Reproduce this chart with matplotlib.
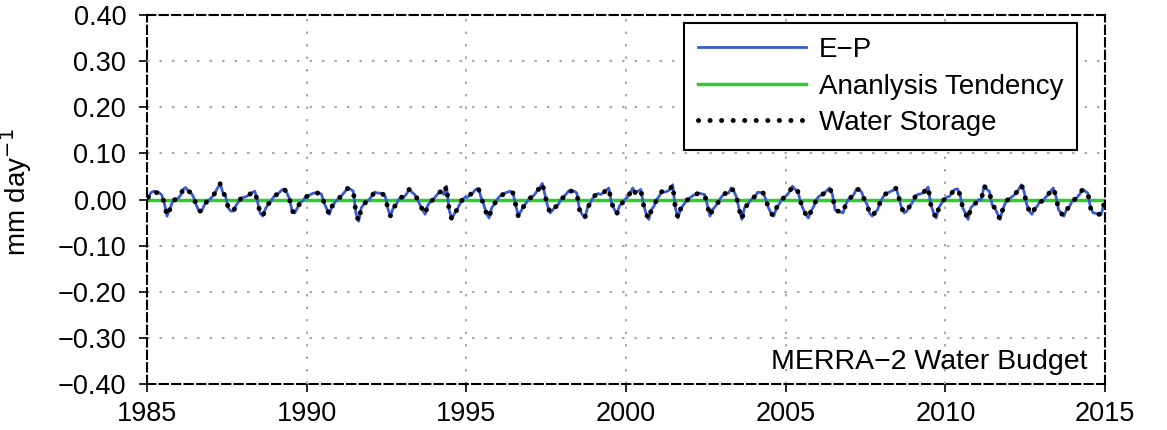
import numpy as np
import matplotlib
matplotlib.use("Agg")
import matplotlib.pyplot as plt

plt.rcParams['font.family'] = ['Liberation Sans', 'DejaVu Sans']

years = list(range(1985, 2015))

# E-P, monthly (Jan..Dec), mm/day, one row per year
ep = [
    [0.005, 0.015, 0.018, 0.015, 0.015, 0.010, -0.008, -0.036, -0.022, -0.006, 0.000, 0.002],   # 1985
    [0.008, 0.022, 0.026, 0.018, 0.015, 0.005, -0.012, -0.025, -0.025, -0.012, -0.004, 0.000],  # 1986
    [0.006, 0.014, 0.025, 0.034, 0.015, 0.007, -0.018, -0.025, -0.025, -0.012, -0.004, 0.004],  # 1987
    [0.005, 0.007, 0.011, 0.015, 0.018, -0.004, -0.030, -0.036, -0.020, -0.010, -0.004, 0.005], # 1988
    [0.010, 0.014, 0.020, 0.023, 0.015, 0.002, -0.025, -0.029, -0.018, -0.007, -0.003, 0.005],  # 1989
    [0.008, 0.011, 0.014, 0.014, 0.014, 0.012, -0.007, -0.020, -0.032, -0.015, -0.007, 0.000],  # 1990
    [0.005, 0.011, 0.018, 0.025, 0.022, 0.018, -0.030, -0.047, -0.018, -0.010, -0.004, 0.000],  # 1991
    [0.008, 0.016, 0.014, 0.014, 0.012, 0.007, -0.020, -0.036, -0.018, -0.012, 0.000, 0.005],   # 1992
    [0.005, 0.012, 0.022, 0.016, 0.011, 0.002, -0.011, -0.022, -0.032, -0.012, -0.005, 0.000],  # 1993
    [0.007, 0.014, 0.018, 0.011, 0.029, -0.022, -0.043, -0.030, -0.022, -0.010, 0.000, 0.005],  # 1994
    [0.005, 0.011, 0.015, 0.022, 0.024, 0.005, -0.011, -0.030, -0.040, -0.018, -0.010, 0.000],  # 1995
    [0.007, 0.010, 0.014, 0.016, 0.018, 0.014, -0.011, -0.036, -0.025, -0.015, -0.007, 0.002],  # 1996
    [0.005, 0.010, 0.018, 0.025, 0.035, 0.011, -0.014, -0.029, -0.022, -0.016, -0.011, 0.000],  # 1997
    [0.005, 0.012, 0.019, 0.018, 0.018, 0.014, -0.022, -0.032, -0.040, -0.018, -0.008, 0.003],  # 1998
    [0.010, 0.013, 0.011, 0.015, 0.020, 0.025, -0.007, -0.020, -0.032, -0.014, -0.008, 0.000],  # 1999
    [0.005, 0.014, 0.025, 0.014, 0.018, 0.022, -0.010, -0.030, -0.043, -0.022, -0.014, 0.000],  # 2000
    [0.008, 0.018, 0.016, 0.018, 0.022, 0.032, -0.018, -0.040, -0.020, -0.012, -0.004, 0.002],  # 2001
    [0.006, 0.010, 0.012, 0.014, 0.012, 0.011, -0.011, -0.036, -0.022, -0.015, -0.007, 0.003],  # 2002
    [0.010, 0.014, 0.014, 0.025, 0.018, 0.005, -0.022, -0.043, -0.018, -0.012, -0.004, 0.003],  # 2003
    [0.007, 0.016, 0.015, 0.014, 0.000, -0.018, -0.030, -0.036, -0.018, -0.010, 0.000, 0.005],  # 2004
    [0.010, 0.018, 0.029, 0.022, 0.018, -0.004, -0.020, -0.032, -0.040, -0.025, -0.015, 0.000], # 2005
    [0.007, 0.010, 0.014, 0.020, 0.025, 0.011, -0.022, -0.025, -0.027, -0.029, -0.011, 0.000],  # 2006
    [0.005, 0.010, 0.022, 0.022, 0.016, 0.000, -0.010, -0.030, -0.036, -0.028, -0.022, -0.005], # 2007
    [0.005, 0.012, 0.015, 0.018, 0.020, 0.025, 0.004, -0.018, -0.029, -0.025, -0.015, -0.007],  # 2008
    [0.005, 0.011, 0.012, 0.014, 0.020, 0.027, -0.011, -0.028, -0.040, -0.018, -0.008, 0.000],  # 2009
    [0.005, 0.007, 0.015, 0.022, 0.023, 0.010, -0.018, -0.030, -0.043, -0.018, -0.012, -0.007], # 2010
    [0.000, 0.000, 0.030, 0.022, 0.018, -0.011, -0.018, -0.030, -0.043, -0.022, -0.007, 0.000], # 2011
    [0.004, 0.008, 0.014, 0.022, 0.032, 0.018, -0.010, -0.025, -0.032, -0.020, -0.014, -0.004], # 2012
    [-0.004, 0.004, 0.010, 0.018, 0.025, 0.007, -0.022, -0.030, -0.036, -0.022, -0.016, -0.005],# 2013
    [0.000, 0.005, 0.012, 0.022, 0.018, 0.014, -0.018, -0.029, -0.030, -0.032, -0.032, -0.011], # 2014
]

# analysis tendency, annual values (flat, ~0 mm/day)
ana_tend = [0.000] * len(years)

yticks = [-0.40, -0.30, -0.20, -0.10, 0.00, 0.10, 0.20, 0.30, 0.40]
xticks = [1985, 1990, 1995, 2000, 2005, 2010, 2015]

# monthly time axis and series
t = np.array([y + (m + 0.5) / 12.0 for y in years for m in range(12)])
ep_m = np.array(ep).ravel()
ana_m = np.repeat(ana_tend, 12)
storage_m = ep_m + ana_m  # budget closure

fig = plt.figure(figsize=(11.67, 4.30), dpi=100)
ax = fig.add_axes([0.126, 0.107, 0.821, 0.858])

ax.plot(t, ep_m, color='#3a5bd0', lw=2.0, label='E\u2212P', zorder=3)
ax.plot(t, ana_m, color='#2ecc2e', lw=2.5, label='Ananlysis Tendency', zorder=2)
ax.plot(t, storage_m, color='black', lw=3.6, linestyle=(0, (0.01, 2.3)),
        dash_capstyle='round', label='Water Storage', zorder=4)

ax.set_xlim(1985, 2015)
ax.set_ylim(-0.40, 0.40)
ax.set_xticks(xticks)
ax.set_yticks(yticks)
ax.set_yticklabels([f'{v:.2f}'.replace('-', '\u2212') for v in yticks])
ax.tick_params(labelsize=19.5, direction='out', length=6, width=1.2)
ax.tick_params(axis='y', pad=9)
ax.tick_params(axis='x', pad=6)

ax.grid(True, color='#999999', linestyle=(0, (1.5, 6)), lw=1.2)
for s in ax.spines.values():
    s.set_linestyle((0, (4, 2)))
    s.set_linewidth(1.5)

ax.set_ylabel('mm day$^{-1}$', fontsize=20)
ax.yaxis.set_label_coords(-0.118, 0.52)

leg = ax.legend(loc='upper right', bbox_to_anchor=(0.971, 0.978), fontsize=20,
                frameon=True, fancybox=False, framealpha=1, edgecolor='black',
                handlelength=3.9, handletextpad=0.45, borderpad=0.5,
                labelspacing=0.38, borderaxespad=0)
leg.get_frame().set_linewidth(1.5)

ax.text(0.982, 0.025, 'MERRA\u22122 Water Budget', transform=ax.transAxes,
        ha='right', va='bottom', fontsize=20.5)

fig.savefig('out.png', dpi=100)
